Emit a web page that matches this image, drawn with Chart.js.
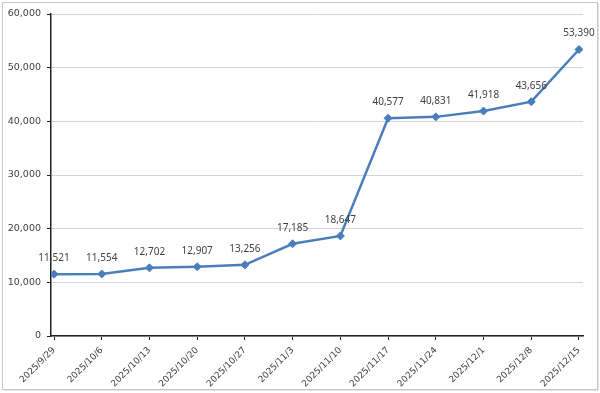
<!DOCTYPE html>
<html>
<head>
<meta charset="utf-8">
<script src="https://cdn.jsdelivr.net/npm/chart.js@4/dist/chart.umd.min.js"></script>
<style>
html,body{margin:0;padding:0;background:#fff;}
#c{display:block;}
</style>
</head>
<body>
<canvas id="c" width="600" height="393"></canvas>
<script>
const categories = ["2025/9/29","2025/10/6","2025/10/13","2025/10/20","2025/10/27","2025/11/3","2025/11/10","2025/11/17","2025/11/24","2025/12/1","2025/12/8","2025/12/15"];
const values = [11521, 11554, 12702, 12907, 13256, 17185, 18647, 40577, 40831, 41918, 43656, 53390];
const yTicks = [0, 10000, 20000, 30000, 40000, 50000, 60000];

const FONT = "'DejaVu Sans', Verdana, sans-serif";
const LABEL_FONT = "'Noto Sans', 'Open Sans', sans-serif";
const TEXT = '#404040';

const frame = {
  id: 'frame',
  beforeDraw(chart) {
    const c = chart.ctx;
    c.save();
    c.fillStyle = '#fff';
    c.fillRect(0, 0, chart.width, chart.height);
    c.strokeStyle = '#c8c8c8';
    c.lineWidth = 1;
    c.strokeRect(2.5, 2.5, 595, 387);
    c.strokeStyle = '#e4e4e4';
    c.beginPath();
    c.moveTo(3, 390.5); c.lineTo(598, 390.5);
    c.moveTo(598.5, 3); c.lineTo(598.5, 391);
    c.stroke();
    c.restore();
  }
};

const labels = {
  id: 'labels',
  afterDatasetsDraw(chart) {
    const c = chart.ctx;
    const meta = chart.getDatasetMeta(0);
    c.save();
    c.font = '10px ' + LABEL_FONT;
    c.fillStyle = TEXT;
    c.textAlign = 'center';
    c.textBaseline = 'middle';
    meta.data.forEach((pt, i) => {
      c.fillText(values[i].toLocaleString('en-US'), pt.x, pt.y - 16);
    });
    c.restore();
  }
};

new Chart(document.getElementById('c'), {
  type: 'line',
  data: {
    datasets: [{
      data: values.map((v, i) => ({x: i, y: v})),
      borderColor: '#4a7ebb',
      backgroundColor: '#4a7ebb',
      borderWidth: 2.5,
      pointStyle: 'rectRot',
      pointRadius: 4,
      pointBorderWidth: 1,
      tension: 0
    }]
  },
  options: {
    responsive: false,
    animation: false,
    devicePixelRatio: 1,
    layout: {padding: {top: 14, right: 17, left: 0, bottom: 0}},
    plugins: {legend: {display: false}, tooltip: {enabled: false}},
    scales: {
      x: {
        type: 'linear',
        min: -0.063,
        max: 11.084,
        afterBuildTicks(scale) {
          scale.ticks = categories.map((_, i) => ({value: i}));
        },
        afterFit(scale) { scale.height = 57; },
        grid: {display: true, drawOnChartArea: false, drawTicks: true, tickLength: 4, color: '#222', tickColor: '#222'},
        border: {display: true, color: '#222', width: 1.5},
        ticks: {
          autoSkip: false,
          maxRotation: 45,
          minRotation: 45,
          padding: 5,
          color: TEXT,
          font: {family: FONT, size: 9},
          callback: (v) => categories[v]
        }
      },
      y: {
        min: 0,
        max: 60000,
        afterBuildTicks(scale) {
          scale.ticks = yTicks.map(v => ({value: v}));
        },
        afterFit(scale) { scale.width = 51; },
        grid: {color: '#d4d4d4', tickColor: '#222', tickLength: 4, lineWidth: 1},
        border: {display: true, color: '#222', width: 1.5},
        ticks: {
          color: TEXT,
          padding: 6,
          font: {family: FONT, size: 9.5},
          callback: (v) => v.toLocaleString('en-US')
        }
      }
    }
  },
  plugins: [frame, labels]
});
</script>
</body>
</html>
